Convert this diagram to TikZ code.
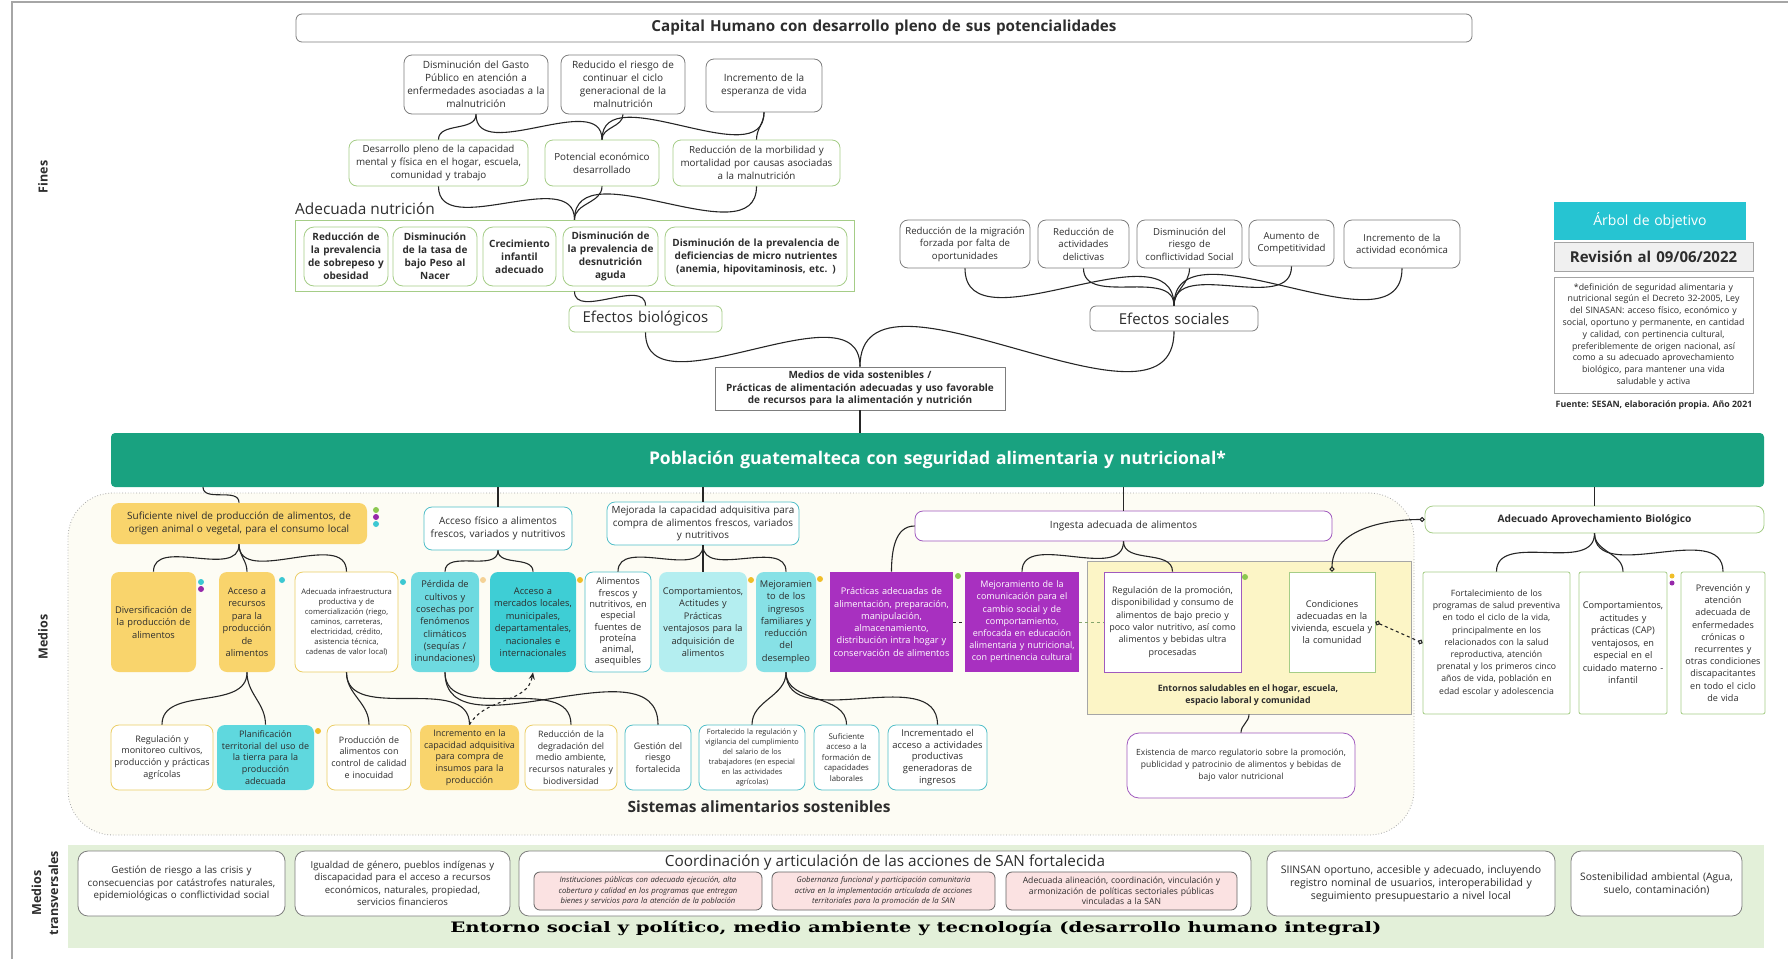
\documentclass[tikz,border=0pt]{standalone}
\usepackage{fontspec}
\usepackage{graphicx}
\setmainfont{Open Sans}
\newfontfamily\entfont{DejaVu Serif}
\usetikzlibrary{arrows.meta}
\newcommand\fs[2]{\fontsize{#1}{#2}\selectfont}
\definecolor{grayb}{RGB}{125,125,125}
\definecolor{greenb}{RGB}{165,205,135}
\definecolor{tealb}{RGB}{80,190,200}
\definecolor{yelb}{RGB}{235,205,100}
\definecolor{purb}{RGB}{160,90,190}
\definecolor{yelf}{RGB}{249,212,108}
\definecolor{teala}{RGB}{110,218,224}
\definecolor{tealc}{RGB}{62,206,213}
\definecolor{teald}{RGB}{180,238,240}
\definecolor{teale}{RGB}{135,225,230}
\definecolor{tealL}{RGB}{95,216,222}
\definecolor{purf}{RGB}{168,48,192}
\definecolor{barg}{RGB}{25,162,128}
\definecolor{arbol}{RGB}{38,196,210}
\definecolor{revf}{RGB}{240,240,240}
\definecolor{cream}{RGB}{253,252,244}
\definecolor{paley}{RGB}{252,245,198}
\definecolor{bandg}{RGB}{227,240,217}
\definecolor{pinkf}{RGB}{251,226,226}
\definecolor{txt}{RGB}{45,45,45}
\definecolor{dgreen}{RGB}{140,200,80}
\definecolor{dpurple}{RGB}{150,40,170}
\definecolor{dteal}{RGB}{60,200,210}
\definecolor{dyellow}{RGB}{240,190,40}
\definecolor{dorange}{RGB}{245,210,150}
\newcommand\bx[7]{%
  \pgfmathsetmacro\bxw{#5-#3}%
  \pgfmathsetmacro\bxh{#6-#4}%
  \pgfmathsetmacro\bxtw{#5-#3-4}%
  \pgfmathsetmacro\bxcx{(#3+#5)/2}%
  \pgfmathsetmacro\bxcy{-(#4+#6)/2}%
  \node[#1, minimum width=\bxw pt, minimum height=\bxh pt, text width=\bxtw pt] (#2) at (\bxcx,\bxcy) {#7};}
\tikzset{
  base/.style={draw, align=center, inner sep=2pt, line width=0.8pt, fill=white, text=txt},
  sqbox/.style={base},
  rb/.style={base, rounded corners=8pt},
  gbox/.style={rb, draw=grayb, font=\fs{10}{13}},
  grbox/.style={rb, draw=greenb, font=\fs{9.8}{13}},
  nbox/.style={rb, draw=greenb, rounded corners=10pt, font=\bfseries\fs{10}{13}},
  sbox/.style={rb, draw=grayb, font=\fs{9.6}{12.5}},
  con/.style={line width=1.1pt, black!85},
  lab/.style={font=\bfseries\fs{12.5}{17}, text=txt, inner sep=0pt, align=center}
}
\begin{document}
\begin{tikzpicture}[x=1pt,y=1pt]
\useasboundingbox (0,0) rectangle (1788,-959);
\draw[gray!70, line width=1.2pt] (12,-959) -- (12,-2) -- (1788,-2);

% side labels
\node[lab, rotate=90] (lfines) at (43,-177) {Fines};
\node[lab, rotate=90] (lmedios) at (43,-637) {Medios};
\node[lab, rotate=90] (ltrans) at (45,-893) {Medios\\transversales};

% ===== FINES =====
\bx{rb, draw=grayb, rounded corners=6pt, font=\bfseries\fs{15.2}{17}}{title}{296}{14}{1472}{42}{Capital Humano con desarrollo pleno de sus potencialidades}

\bx{gbox}{A}{404}{55}{548}{114}{Disminución del Gasto\\Público en atención a\\enfermedades asociadas a la\\malnutrición}
\bx{gbox}{B}{561}{55}{685}{114}{Reducido el riesgo de\\continuar el ciclo\\generacional de la\\malnutrición}
\bx{gbox}{C}{706}{59}{822}{112}{Incremento de la\\esperanza de vida}

\bx{grbox}{D}{349}{140}{528}{186}{Desarrollo pleno de la capacidad\\mental y física en el hogar, escuela,\\comunidad y trabajo}
\bx{grbox}{E}{545}{140}{659}{186}{Potencial económico\\desarrollado}
\bx{grbox}{F}{673}{140}{840}{186}{Reducción de la morbilidad y\\mortalidad por causas asociadas\\a la malnutrición}

\node[anchor=west, font=\fs{15.4}{17}, text=txt, inner sep=0pt] (ladec) at (295,-209) {Adecuada nutrición};
\bx{sqbox, draw=greenb}{nutg}{295}{220}{854}{291}{}
\bx{nbox}{N1}{304}{227}{388}{286}{Reducción de\\la prevalencia\\de sobrepeso y\\obesidad}
\bx{nbox}{N2}{393}{227}{477}{286}{Disminución\\de la tasa de\\bajo Peso al\\Nacer}
\bx{nbox}{N3}{483}{227}{556}{286}{Crecimiento\\infantil\\adecuado}
\bx{nbox}{N4}{563}{227}{658}{286}{Disminución de\\la prevalencia de\\desnutrición\\aguda}
\bx{nbox}{N5}{665}{227}{847}{286}{Disminución de la prevalencia de\\deficiencias de micro nutrientes\\(anemia, hipovitaminosis, etc. )}

\bx{rb, draw=greenb, rounded corners=6pt, font=\fs{15}{17}}{ebio}{569}{306}{722}{332}{Efectos biológicos}
\bx{rb, draw=grayb, rounded corners=6pt, font=\fs{15}{17}}{esoc}{1090}{306}{1258}{331}{Efectos sociales}
\bx{sqbox, draw=grayb, font=\bfseries\fs{10}{12.8}}{mv}{715}{367}{1005}{410}{Medios de vida sostenibles /\\Prácticas de alimentación adecuadas y uso favorable\\de recursos para la alimentación y nutrición}

\bx{sbox}{S1}{900}{220}{1030}{268}{Reducción de la migración\\forzada por falta de\\oportunidades}
\bx{sbox}{S2}{1038}{220}{1129}{268}{Reducción de\\actividades\\delictivas}
\bx{sbox}{S3}{1137}{220}{1242}{268}{Disminución del\\riesgo de\\conflictividad Social}
\bx{sbox}{S4}{1249}{220}{1334}{266}{Aumento de\\Competitividad}
\bx{sbox}{S5}{1344}{220}{1460}{268}{Incremento de la\\actividad económica}

\bx{base, draw=none, fill=arbol, text=white, font=\fs{14}{16}}{arbol}{1554}{202}{1746}{240}{Árbol de objetivo}
\bx{sqbox, draw=grayb!70, fill=revf, font=\bfseries\fs{15}{17}}{rev}{1554}{242}{1753}{271}{Revisión al 09/06/2022}
\bx{sqbox, draw=grayb!70, font=\fs{8.8}{11.8}}{defn}{1554}{277}{1753}{393}{*definición de seguridad alimentaria y\\nutricional según el Decreto 32-2005, Ley\\del SINASAN: acceso físico, económico y\\social, oportuno y permanente, en cantidad\\y calidad, con pertinencia cultural,\\preferiblemente de origen nacional, así\\como a su adecuado aprovechamiento\\biológico, para mantener una vida\\saludable y activa}
\node[font=\bfseries\fs{8.8}{10}, text=txt, inner sep=0pt] (fuente) at (1654,-405) {Fuente: SESAN, elaboración propia. Año 2021};

% connectors fines
\draw[con] (A.south) to[out=-90,in=90] (D.north);
\draw[con] (A.south) to[out=-90,in=90] (E.north);
\draw[con] (B.south) to[out=-90,in=90] (E.north);
\draw[con] (C.south) to[out=-90,in=90] (E.north);
\draw[con] (C.south) to[out=-90,in=90] (F.north);
\draw[con] (D.south) to[out=-90,in=90] (nutg.north);
\draw[con] (E.south) to[out=-90,in=90] (nutg.north);
\draw[con] (F.south) to[out=-90,in=90] (nutg.north);
\draw[con] (nutg.south) to[out=-90,in=90] (ebio.north);
\draw[con] (ebio.south) to[out=-90,in=90] (mv.north);
\draw[con] (esoc.south) to[out=-90,in=90] (mv.north);
\foreach \s in {S1,S2,S3,S4,S5} {\draw[con] (\s.south) to[out=-90,in=90] (esoc.north);}

% ===== BAR =====
\bx{base, draw=none, fill=barg, text=white, font=\bfseries\fs{17.5}{20}, rounded corners=4pt}{bar}{111}{433}{1764}{487}{Población guatemalteca con seguridad alimentaria y nutricional*}
\draw[con] (mv.south) -- (mv.south |- bar.north);

% ===== MEDIOS =====
\bx{sqbox, dotted, draw=gray!70, fill=cream, rounded corners=45pt}{sys}{68}{493}{1414}{835}{}
\node[font=\bfseries\fs{15.5}{17}, text=txt, inner sep=0pt] (lsys) at (759,-807) {Sistemas alimentarios sostenibles};

\bx{rb, draw=none, fill=yelf, font=\fs{10}{13.5}}{Y1}{111}{503}{367}{544}{Suficiente nivel de producción de alimentos, de\\origen animal o vegetal, para el consumo local}
\bx{rb, draw=tealb, font=\fs{10}{13}}{T1}{424}{507}{572}{550}{Acceso físico a alimentos\\frescos, variados y nutritivos}
\bx{rb, draw=tealb, font=\fs{9.9}{12.5}}{T2}{607}{502}{799}{545}{Mejorada la capacidad adquisitiva para\\compra de alimentos frescos, variados\\y nutritivos}
\bx{rb, draw=purb, font=\fs{10}{12}}{P1}{915}{511}{1332}{541}{Ingesta adecuada de alimentos}
\bx{rb, draw=greenb, font=\bfseries\fs{10.2}{12}}{G1}{1425}{506}{1764}{533}{Adecuado Aprovechamiento Biológico}

\bx{rb, draw=none, fill=yelf, font=\fs{9.3}{12.5}}{Y2}{111}{572}{196}{672}{Diversificación de\\la producción de\\alimentos}
\bx{rb, draw=none, fill=yelf, font=\fs{9.3}{12.5}}{Y3}{219}{572}{275}{672}{Acceso a\\recursos\\para la\\producción\\de\\alimentos}
\bx{rb, draw=yelb, font=\fs{7.6}{10}}{W1}{295}{572}{398}{672}{Adecuada infraestructura\\productiva y de\\comercialización (riego,\\caminos, carreteras,\\electricidad, crédito,\\asistencia técnica,\\cadenas de valor local)}
\bx{rb, draw=none, fill=teala, font=\fs{9.3}{12.3}}{C1}{411}{572}{479}{672}{Pérdida de\\cultivos y\\cosechas por\\fenómenos\\climáticos\\(sequías /\\inundaciones)}
\bx{rb, draw=none, fill=tealc, font=\fs{9.3}{12.5}}{C2}{490}{572}{576}{672}{Acceso a\\mercados locales,\\municipales,\\departamentales,\\nacionales e\\internacionales}
\bx{rb, draw=tealb, font=\fs{9.3}{11.3}}{W2}{585}{572}{651}{672}{Alimentos\\frescos y\\nutritivos, en\\especial\\fuentes de\\proteína\\animal,\\asequibles}
\bx{rb, draw=none, fill=teald, font=\fs{9.2}{12.5}}{C3}{659}{572}{747}{672}{Comportamientos,\\Actitudes y\\Prácticas\\ventajosos para la\\adquisición de\\alimentos}
\bx{rb, draw=none, fill=teale, font=\fs{9.3}{12.3}}{C4}{756}{572}{816}{672}{Mejoramien\\to de los\\ingresos\\familiares y\\reducción\\del\\desempleo}
\bx{sqbox, draw=none, fill=purf, text=white, font=\fs{9.2}{12.3}}{M1}{830}{572}{953}{672}{Prácticas adecuadas de\\alimentación, preparación,\\manipulación,\\almacenamiento,\\distribución intra hogar y\\conservación de alimentos}
\bx{sqbox, draw=none, fill=purf, text=white, font=\fs{9}{12.2}}{M2}{965}{572}{1079}{672}{Mejoramiento de la\\comunicación para el\\cambio social y de\\comportamiento,\\enfocada en educación\\alimentaria y nutricional,\\con pertinencia cultural}
\bx{sqbox, draw=gray!70, fill=paley}{entb}{1087}{561}{1411}{714}{}
\bx{sqbox, draw=purb, font=\fs{9}{12.3}}{R1}{1104}{572}{1241}{672}{Regulación de la promoción,\\disponibilidad y consumo de\\alimentos de bajo precio y\\poco valor nutritivo, así como\\alimentos y bebidas ultra\\procesadas}
\bx{sqbox, draw=greenb, font=\fs{9.2}{12.3}}{R2}{1289}{572}{1375}{672}{Condiciones\\adecuadas en la\\vivienda, escuela y\\la comunidad}
\node[font=\bfseries\fs{8.8}{11.5}, text=txt, align=center, inner sep=0pt] (lent) at (1248,-695) {Entornos saludables en el hogar, escuela,\\espacio laboral y comunidad};
\bx{rb, rounded corners=2pt, draw=greenb, font=\fs{8.7}{12.2}}{G2}{1423}{572}{1570}{714}{Fortalecimiento de los\\programas de salud preventiva\\en todo el ciclo de la vida,\\principalmente en los\\relacionados con la salud\\reproductiva, atención\\prenatal y los primeros cinco\\años de vida, población en\\edad escolar y adolescencia}
\bx{rb, rounded corners=2pt, draw=greenb, font=\fs{9.2}{12.5}}{G3}{1579}{572}{1667}{714}{Comportamientos,\\actitudes y\\prácticas (CAP)\\ventajosos, en\\especial en el\\cuidado materno -\\infantil}
\bx{rb, rounded corners=2pt, draw=greenb, font=\fs{9.1}{12.2}}{G4}{1681}{572}{1765}{714}{Prevención y\\atención\\adecuada de\\enfermedades\\crónicas o\\recurrentes y\\otras condiciones\\discapacitantes\\en todo el ciclo\\de vida}

\bx{rb, draw=yelb, font=\fs{9}{11.8}}{L1}{111}{725}{213}{790}{Regulación y\\monitoreo cultivos,\\producción y prácticas\\agrícolas}
\bx{rb, draw=none, fill=tealL, font=\fs{9}{11.8}}{L2}{217}{725}{314}{790}{Planificación\\territorial del uso de\\la tierra para la\\producción\\adecuada}
\bx{rb, draw=yelb, font=\fs{8.9}{11.8}}{L3}{327}{725}{411}{790}{Producción de\\alimentos con\\control de calidad\\e inocuidad}
\bx{rb, draw=none, fill=yelf, font=\fs{9}{11.6}}{L4}{420}{725}{519}{790}{Incremento en la\\capacidad adquisitiva\\para compra de\\insumos para la\\producción}
\bx{rb, draw=yelb, font=\fs{8.8}{11.6}}{L5}{525}{725}{617}{790}{Reducción de la\\degradación del\\medio ambiente,\\recursos naturales y\\biodiversidad}
\bx{rb, draw=tealb, font=\fs{9}{11.8}}{L6}{625}{725}{691}{790}{Gestión del\\riesgo\\fortalecida}
\bx{rb, draw=tealb, font=\fs{7.3}{10}}{L7}{699}{725}{805}{790}{Fortalecido la regulación y\\vigilancia del cumplimiento\\del salario de los\\trabajadores (en especial\\en las actividades\\agrícolas)}
\bx{rb, draw=tealb, font=\fs{7.8}{10.5}}{L8}{814}{725}{879}{790}{Suficiente\\acceso a la\\formación de\\capacidades\\laborales}
\bx{rb, draw=tealb, font=\fs{9.4}{11.8}}{L9}{888}{725}{987}{790}{Incrementado el\\acceso a actividades\\productivas\\generadoras de\\ingresos}
\bx{rb, draw=purb, rounded corners=12pt, font=\fs{8.5}{12}}{L10}{1127}{733}{1355}{798}{Existencia de marco regulatorio sobre la promoción,\\publicidad y patrocinio de alimentos y bebidas de\\bajo valor nutricional}

% dots
\fill[dgreen] (376,-510) circle (3pt);
\fill[dpurple] (376,-517) circle (3pt);
\fill[dteal] (376,-524) circle (3pt);
\fill[dteal] (201,-582) circle (3pt);
\fill[dpurple] (201,-589) circle (3pt);
\fill[dteal] (282,-580) circle (3pt);
\fill[dteal] (403,-582) circle (3pt);
\fill[dorange] (483,-580) circle (3pt);
\fill[dyellow] (580,-580) circle (3pt);
\fill[dyellow] (751,-580) circle (3pt);
\fill[dyellow] (820,-579) circle (3pt);
\fill[dgreen] (958,-576) circle (3pt);
\fill[dgreen] (1245,-577) circle (3pt);
\fill[dyellow] (1672,-576) circle (2.5pt);
\fill[dpurple] (1672,-583) circle (2.5pt);
\fill[dyellow] (318,-731) circle (3pt);

% connectors medios
\coordinate (bY1) at (203,-487);
\draw[con] (bY1) to[out=-90,in=90] (Y1.north);
\draw[con] (T1.north |- bar.south) -- (T1.north);
\draw[con] (T2.north |- bar.south) -- (T2.north);
\draw[con] (P1.north |- bar.south) -- (P1.north);
\draw[con] (G1.north |- bar.south) -- (G1.north);
\draw[con] (Y1.south) to[out=-90,in=90] (Y2.north);
\draw[con] (Y1.south) to[out=-90,in=90] (Y3.north);
\draw[con] (Y1.south) to[out=-90,in=90] (W1.north);
\draw[con] (T1.south) to[out=-90,in=90] (C1.north);
\draw[con] (T1.south) to[out=-90,in=90] (C2.north);
\draw[con] (T2.south) to[out=-90,in=90] (W2.north);
\draw[con] (T2.south) to[out=-90,in=90] (C3.north);
\draw[con] (T2.south) to[out=-90,in=90] (C4.north);
\draw[con] (P1.west) to[out=180,in=90] (M1.north);
\draw[con] (P1.south) to[out=-90,in=90] (M2.north);
\draw[con] (P1.south) to[out=-90,in=90] (R1.north);
\draw[con] (G1.south) to[out=-90,in=90] (G2.north);
\draw[con] (G1.south) to[out=-90,in=90] (G3.north);
\draw[con] (G1.south) to[out=-90,in=90] (G4.north);
\draw[con, {Circle[open,length=5pt,width=5pt]}-{Circle[open,length=5pt,width=5pt]}] (R2.north) to[out=90,in=180] (G1.west);
\draw[con, dashed, {Circle[open,length=5pt,width=5pt]}-{Circle[open,length=5pt,width=5pt]}] (R2.east) -- (G2.west);
\draw[con, dashed, line width=0.8pt] (M1.east) -- (M2.west);
\draw[dashed, line width=0.8pt, greenb!80!black] (M2.east) -- (R1.west);
\draw[con] (Y3.south) to[out=-90,in=90] (L1.north);
\draw[con] (Y3.south) to[out=-90,in=90] (L2.north);
\draw[con] (W1.south) to[out=-90,in=90] (L3.north);
\draw[con] (W1.south) to[out=-90,in=90] (L4.north);
\draw[con] (C1.south) to[out=-90,in=90] (L5.north);
\draw[con] (C1.south) to[out=-90,in=90] (L6.north);
\draw[con, dashed, -{Stealth[length=7pt,width=6pt]}] (L4.north) to[out=60,in=-100] (C2.south);
\draw[con] (C4.south) to[out=-90,in=90] (L7.north);
\draw[con] (C4.south) to[out=-90,in=90] (L8.north);
\draw[con] (C4.south) to[out=-90,in=90] (L9.north);
\draw[con] (entb.south) to[out=-90,in=90] (L10.north);

% ===== TRANSVERSALES =====
\bx{sqbox, draw=none, fill=bandg}{band}{68}{845}{1764}{948}{}
\bx{rb, draw=grayb, rounded corners=10pt, font=\fs{9.8}{12.5}}{TB1}{78}{851}{285}{916}{Gestión de riesgo a las crisis y\\consecuencias por catástrofes naturales,\\epidemiológicas o conflictividad social}
\bx{rb, draw=grayb, rounded corners=10pt, font=\fs{9.6}{12.3}}{TB2}{295}{851}{510}{916}{Igualdad de género, pueblos indígenas y\\discapacidad para el acceso a recursos\\económicos, naturales, propiedad,\\servicios financieros}
\bx{rb, draw=grayb, rounded corners=10pt}{TB3}{519}{851}{1251}{916}{}
\node[font=\fs{15.3}{17}, text=txt, inner sep=0pt] (ltb3) at (885,-862) {Coordinación y articulación de las acciones de SAN fortalecida};
\bx{rb, draw=grayb!80!black, fill=pinkf, rounded corners=6pt, font=\itshape\fs{7.7}{10.3}}{PK1}{534}{872}{762}{910}{Instituciones públicas con adecuada ejecución, alta\\cobertura y calidad en los programas que entregan\\bienes y servicios para la atención de la población}
\bx{rb, draw=grayb!80!black, fill=pinkf, rounded corners=6pt, font=\itshape\fs{7.7}{10.3}}{PK2}{772}{872}{995}{910}{Gobernanza funcional y participación comunitaria\\activa en la implementación articulada de acciones\\territoriales para la promoción de la SAN}
\bx{rb, draw=grayb!80!black, fill=pinkf, rounded corners=6pt, font=\fs{8.6}{10.6}}{PK3}{1006}{872}{1237}{910}{Adecuada alineación, coordinación, vinculación y\\armonización de políticas sectoriales públicas\\vinculadas a la SAN}
\bx{rb, draw=grayb, rounded corners=10pt, font=\fs{10.5}{13}}{TB4}{1267}{851}{1555}{916}{SIINSAN oportuno, accesible y adecuado, incluyendo\\registro nominal de usuarios, interoperabilidad y\\seguimiento presupuestario a nivel local}
\bx{rb, draw=grayb, rounded corners=10pt, font=\fs{10.3}{13}}{TB5}{1571}{851}{1742}{916}{Sostenibilidad ambiental (Agua,\\suelo, contaminación)}
\node[inner sep=0pt, text=black] (entorno) at (916,-928) {\resizebox{931pt}{11.5pt}{\entfont\bfseries Entorno social y político, medio ambiente y tecnología (desarrollo humano integral)}};
\end{tikzpicture}
\end{document}
